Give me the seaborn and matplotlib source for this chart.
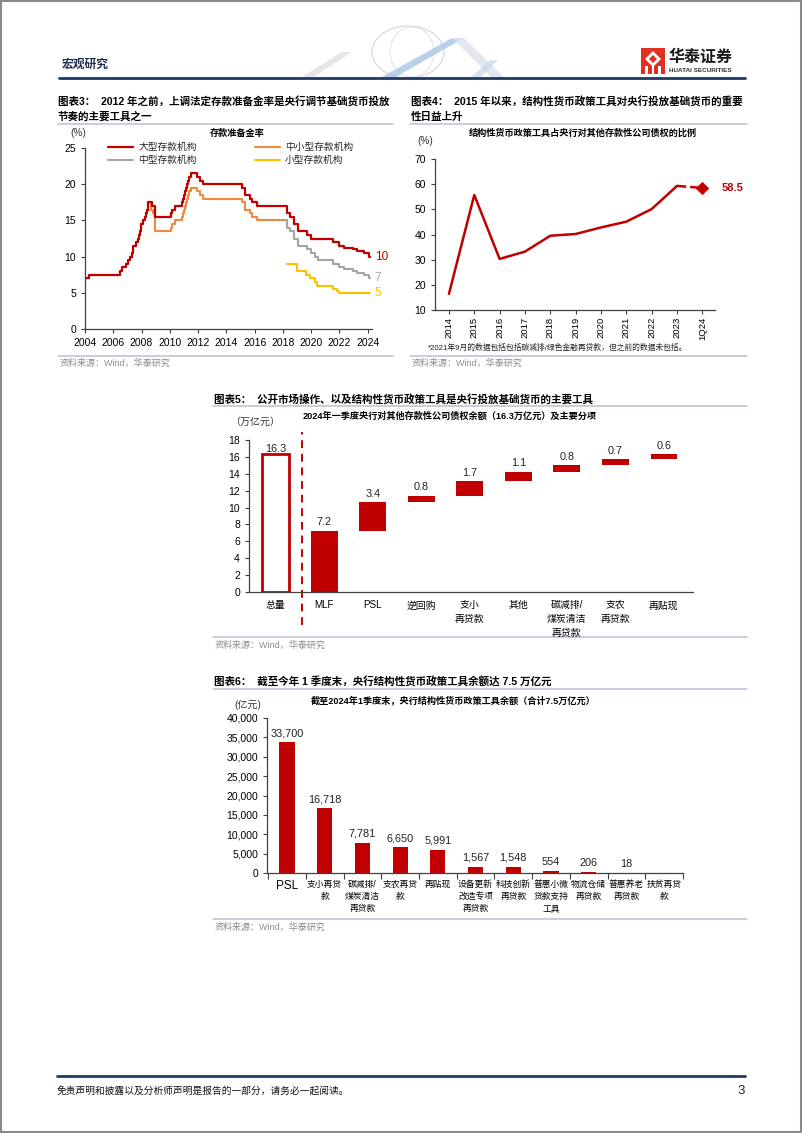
import numpy as np
import matplotlib
matplotlib.use('Agg')
import matplotlib.pyplot as plt
import seaborn as sns
from matplotlib.patches import Rectangle, Polygon, Ellipse
from matplotlib.ticker import FuncFormatter

# ---- data: reserve requirement ratio (change points, year fraction / %) ----
rrr_large_x = [2004.0, 2004.3, 2006.5, 2006.62, 2006.87, 2007.04, 2007.15, 2007.29, 2007.37, 2007.43,
               2007.62, 2007.73, 2007.81, 2007.9, 2007.98, 2008.07, 2008.23, 2008.32, 2008.38, 2008.46,
               2008.73, 2008.93, 2008.98, 2010.05, 2010.15, 2010.36, 2010.87, 2010.91, 2010.97, 2011.05,
               2011.15, 2011.23, 2011.3, 2011.38, 2011.47, 2011.93, 2012.15, 2012.38, 2015.1, 2015.3,
               2015.68, 2015.82, 2016.17, 2018.32, 2018.51, 2018.79, 2019.04, 2019.07, 2019.71, 2020.01,
               2021.54, 2021.96, 2022.32, 2022.93, 2023.24, 2023.71, 2024.1, 2024.17]
rrr_large_y = [7.0, 7.5, 8.0, 8.5, 9.0, 9.5, 10.0, 10.5, 11.0, 11.5,
               12.0, 12.5, 13.0, 13.5, 14.5, 15.0, 15.5, 16.0, 16.5, 17.5,
               17.0, 16.0, 15.5, 16.0, 16.5, 17.0, 17.5, 18.0, 18.5, 19.0,
               19.5, 20.0, 20.5, 21.0, 21.5, 21.0, 20.5, 20.0, 19.5, 18.5,
               18.0, 17.5, 17.0, 16.0, 15.5, 14.5, 14.0, 13.5, 13.0, 12.5,
               12.0, 11.5, 11.25, 11.0, 10.75, 10.5, 10.0, 10.0]

rrr_smallmid_x = [2008.46, 2008.66, 2008.79, 2008.93, 2008.98, 2010.05, 2010.15, 2010.36, 2010.87, 2010.91,
                  2010.97, 2011.05, 2011.15, 2011.23, 2011.3, 2011.38, 2011.47, 2011.93, 2012.15, 2012.38,
                  2015.1, 2015.3, 2015.68, 2015.82, 2016.17, 2018.3]
rrr_smallmid_y = [17.5, 16.5, 16.0, 14.0, 13.5, 14.0, 14.5, 15.0, 15.5, 16.0,
                  16.5, 17.0, 17.5, 18.0, 18.5, 19.0, 19.5, 19.0, 18.5, 18.0,
                  17.5, 16.5, 16.0, 15.5, 15.0, 15.0]

rrr_mid_x = [2018.25, 2018.32, 2018.51, 2018.79, 2019.04, 2019.07, 2019.71, 2020.01, 2020.3, 2020.45,
             2021.54, 2021.96, 2022.32, 2022.93, 2023.24, 2023.71, 2024.1, 2024.17]
rrr_mid_y = [15.0, 14.0, 13.5, 12.5, 12.0, 11.5, 11.0, 10.5, 10.0, 9.5,
             9.0, 8.5, 8.25, 8.0, 7.75, 7.5, 7.0, 7.0]

rrr_small_x = [2018.3, 2018.97, 2019.66, 2019.9, 2020.26, 2020.42, 2021.54, 2021.79, 2022.0, 2024.17]
rrr_small_y = [9.0, 8.0, 7.5, 7.0, 6.5, 6.0, 5.5, 5.25, 5.0, 5.0]

# ---- data: structural tools share of claims on ODCs (%) ----
share_years = ['2014', '2015', '2016', '2017', '2018', '2019', '2020', '2021', '2022', '2023', '1Q24']
share_vals = [16.4, 55.7, 30.3, 33.2, 39.5, 40.2, 42.8, 45.1, 50.1, 59.3, 58.5]

# ---- data: waterfall, 2024Q1 claims on ODCs (trn yuan) ----
wf_cats = ['总量', 'MLF', 'PSL', '逆回购', '支小\n再贷款', '其他', '碳减排/\n煤炭清洁\n再贷款', '支农\n再贷款', '再贴现']
wf_vals = [16.3, 7.2, 3.4, 0.8, 1.7, 1.1, 0.8, 0.7, 0.6]

# ---- data: structural tool balances (100m yuan) ----
tool_cats = ['PSL', '支小再贷\n款', '碳减排/\n煤炭清洁\n再贷款', '支农再贷\n款', '再贴现', '设备更新\n改造专项\n再贷款',
             '科技创新\n再贷款', '普惠小微\n贷款支持\n工具', '物流仓储\n再贷款', '普惠养老\n再贷款', '扶贫再贷\n款']
tool_vals = [33700, 16718, 7781, 6650, 5991, 1567, 1548, 554, 206, 18, 0]

RED = '#C00000'
ORANGE = '#F0883E'
GRAY = '#A5A5A5'
YELLOW = '#FFC000'
SEP = '#BFC7D5'
NAVY = '#1F3864'

sns.set_theme(style='ticks')
plt.rcParams['font.family'] = ['Liberation Sans', 'Noto Sans CJK SC']
plt.rcParams['axes.unicode_minus'] = False

W, H = 802, 1133
fig = plt.figure(figsize=(W / 100, H / 100), dpi=100)


def add_ax(x0, y0, x1, y1):
    a = fig.add_axes([x0 / W, 1 - y1 / H, (x1 - x0) / W, (y1 - y0) / H])
    a.patch.set_alpha(0)
    return a


# page layer in pixel coordinates
bg = fig.add_axes([0, 0, 1, 1])
bg.set_xlim(0, W)
bg.set_ylim(H, 0)
bg.axis('off')

bg.add_patch(Rectangle((1, 1), W - 2, H - 2, fill=False, ec='#8A8A8A', lw=1.5))

# header decoration
bg.add_patch(Polygon([(300, 78), (342, 52), (352, 52), (312, 78)], color='#DDE1E6', alpha=0.8, lw=0))
bg.add_patch(Ellipse((408, 52), 72, 52, fill=False, ec='#D0D6DE', lw=0.8))
bg.add_patch(Ellipse((412, 52), 44, 50, fill=False, ec='#D8DDE4', lw=0.6))
bg.add_patch(Polygon([(380, 78), (452, 38), (464, 38), (394, 78)], color='#A9C6E8', alpha=0.8, lw=0))
bg.add_patch(Polygon([(452, 38), (464, 38), (505, 78), (492, 78)], color='#DCE2EA', alpha=0.8, lw=0))
bg.add_patch(Polygon([(470, 78), (490, 60), (498, 60), (480, 78)], color='#C8D8EC', alpha=0.7, lw=0))

bg.text(62, 65, '宏观研究', fontsize=8.5, fontweight='bold', color='#1F2D4F', va='center')
bg.plot([59, 745], [78, 78], color=NAVY, lw=2)

# logo
bg.add_patch(Rectangle((641, 48), 24, 26, color='#E03020', lw=0))
bg.add_patch(Polygon([(653, 51), (661, 59), (653, 67), (645, 59)], color='white', lw=0))
bg.add_patch(Polygon([(653, 55), (657, 59), (653, 63), (649, 59)], color='#E03020', lw=0))
for xx in (645, 651.5, 658):
    bg.add_patch(Rectangle((xx, 66), 2.5, 8, color='white', lw=0))
bg.text(669, 57, '华泰证券', fontsize=11.5, fontweight='bold', color='#1A1A1A', va='center')
bg.text(669, 71, 'HUATAI SECURITIES', fontsize=4.6, fontweight='bold', color='#333333', va='center')

# footer
bg.plot([57, 745], [1076, 1076], color=NAVY, lw=2)
bg.text(57, 1091, '免责声明和披露以及分析师声明是报告的一部分，请务必一起阅读。', fontsize=7, va='center', color='#111111')
bg.text(745, 1091, '3', fontsize=9.5, va='center', ha='right')

# titles, separators, sources
title_kw = dict(fontsize=7.6, fontweight='bold', va='center', color='black')
bg.text(58, 101, '图表3：  2012 年之前，上调法定存款准备金率是央行调节基础货币投放', **title_kw)
bg.text(58, 117, '节奏的主要工具之一', **title_kw)
bg.text(411, 101, '图表4：  2015 年以来，结构性货币政策工具对央行投放基础货币的重要', **title_kw)
bg.text(411, 117, '性日益上升', **title_kw)
bg.text(214, 399, '图表5：  公开市场操作、以及结构性货币政策工具是央行投放基础货币的主要工具', **title_kw)
bg.text(214, 681, '图表6：  截至今年 1 季度末，央行结构性货币政策工具余额达 7.5 万亿元', **title_kw)

for y in (124, 356):
    bg.plot([58, 393], [y, y], color=SEP, lw=1.2)
    bg.plot([410, 747], [y, y], color=SEP, lw=1.2)
for y in (406, 637, 689, 919):
    bg.plot([213, 747], [y, y], color=SEP, lw=1.2)

src_kw = dict(fontsize=6.5, color='#8C8C8C', va='center')
for x, y in [(60, 363), (412, 363), (215, 645), (215, 927)]:
    bg.text(x, y, '资料来源：Wind，华泰研究', **src_kw)

sub_kw = dict(fontsize=6.6, fontweight='bold', ha='center', va='center', color='black')
bg.text(237, 133, '存款准备金率', **sub_kw)
bg.text(583, 133, '结构性货币政策工具占央行对其他存款性公司债权的比例', **sub_kw)
bg.text(450, 416, '2024年一季度央行对其他存款性公司债权余额（16.3万亿元）及主要分项', **sub_kw)
bg.text(453, 700, '截至2024年1季度末，央行结构性货币政策工具余额（合计7.5万亿元）', **sub_kw)

unit_kw = dict(fontsize=7.2, va='center', ha='center', color='#333333')
bg.text(78, 133, '(%)', **unit_kw)
bg.text(425, 141, '(%)', **unit_kw)
bg.text(255, 422, '（万亿元）', **unit_kw)
bg.text(248, 705, '(亿元)', **unit_kw)
bg.text(428, 348, '*2021年9月的数据包括包括碳减排/绿色金融再贷款，但之前的数据未包括。', fontsize=5.6, va='center', color='#222222')

tick_kw = dict(labelsize=7.5, length=3, width=0.8, colors='#404040', labelcolor='black', direction='out')

# ---- chart 3: RRR step lines ----
ax3 = add_ax(85, 148, 372, 329)
sns.lineplot(x=rrr_smallmid_x, y=rrr_smallmid_y, color=ORANGE, lw=1.5, drawstyle='steps-post', ax=ax3, label='中小型存款机构')
sns.lineplot(x=rrr_mid_x, y=rrr_mid_y, color=GRAY, lw=1.5, drawstyle='steps-post', ax=ax3, label='中型存款机构')
sns.lineplot(x=rrr_small_x, y=rrr_small_y, color=YELLOW, lw=1.5, drawstyle='steps-post', ax=ax3, label='小型存款机构')
sns.lineplot(x=rrr_large_x, y=rrr_large_y, color=RED, lw=1.6, drawstyle='steps-post', ax=ax3, label='大型存款机构')
h, l = ax3.get_legend_handles_labels()
order = [l.index(k) for k in ['大型存款机构', '中型存款机构', '中小型存款机构', '小型存款机构']]
ax3.legend([h[i] for i in order], [l[i] for i in order], ncol=2, frameon=False, fontsize=7,
           loc='upper left', bbox_to_anchor=(108 / W, 1 - 142 / H), bbox_transform=fig.transFigure,
           borderpad=0, borderaxespad=0, handlelength=2.6, handletextpad=0.5, columnspacing=6.0,
           labelspacing=0.3)
ax3.set_xlim(2004, 2024.3)
ax3.set_ylim(0, 25)
ax3.set_xticks(range(2004, 2025, 2))
ax3.set_yticks(range(0, 26, 5))
sns.despine(ax=ax3)
ax3.tick_params(**tick_kw)
for val, c in [(rrr_large_y[-1], RED), (rrr_mid_y[-1], GRAY), (rrr_small_y[-1], YELLOW)]:
    ax3.text(2024.5, val, f'{val:g}', color=c, fontsize=8.5, va='center', ha='left', clip_on=False)

# ---- chart 4: share line ----
ax4 = add_ax(435, 159, 715, 310)
pos = np.arange(len(share_years))
sns.lineplot(x=pos[:-1], y=share_vals[:-1], color=RED, lw=1.8, ax=ax4)
sns.lineplot(x=pos[-2:], y=share_vals[-2:], color=RED, lw=1.8, linestyle='--', ax=ax4)
sns.scatterplot(x=pos[-1:], y=share_vals[-1:], color=RED, marker='D', s=40, edgecolor=RED, ax=ax4, zorder=5)
ax4.text(pos[-1] + 0.75, share_vals[-1], f'{share_vals[-1]}', color=RED, fontsize=8, fontweight='bold', va='center')
ax4.set_xticks(pos)
ax4.set_xticklabels(share_years, rotation=90)
ax4.set_xlim(-0.55, 10.5)
ax4.set_ylim(10, 70)
ax4.set_yticks(range(10, 71, 10))
sns.despine(ax=ax4)
ax4.tick_params(**tick_kw)
ax4.tick_params(axis='x', labelsize=6.8, pad=2)

# ---- chart 5: waterfall ----
ax5 = add_ax(249, 440, 693, 592)
wf_tops = [wf_vals[0]] + list(np.cumsum(wf_vals[1:]))
wf_bottoms = [0] + [t - v for t, v in zip(wf_tops[1:], wf_vals[1:])]
pal = {c: RED for c in wf_cats}
pal[wf_cats[0]] = 'white'
sns.barplot(x=wf_cats, y=wf_tops, hue=wf_cats, palette=pal, legend=False, saturation=1,
            width=0.55, linewidth=0, ax=ax5)
first = min(ax5.patches, key=lambda p: p.get_x())
first.set_facecolor('white')
first.set_edgecolor(RED)
first.set_linewidth(2)
# white mask below each floating bar
sns.barplot(x=wf_cats, y=wf_bottoms, color='white', saturation=1, width=0.62, linewidth=0, ax=ax5)
for i, (t, v) in enumerate(zip(wf_tops, wf_vals)):
    ax5.text(i, t + (0.05 if i == 0 else 0.45), f'{v:.1f}', ha='center', va='bottom', fontsize=7.8, color='#222222')
ax5.axvline(0.55, ymin=-0.22, ymax=1.05, color=RED, ls=(0, (4, 3)), lw=1.4, clip_on=False)
ax5.set_xlim(-0.55, 8.6)
ax5.set_ylim(0, 18)
ax5.set_yticks(range(0, 19, 2))
sns.despine(ax=ax5)
ax5.tick_params(**tick_kw)
ax5.tick_params(axis='x', length=0, pad=6)
for lab in ax5.get_xticklabels():
    lab.set_linespacing(1.5)
    lab.set_fontsize(7.1)

# ---- chart 6: tool balances ----
ax6 = add_ax(267, 718, 683, 873)
sns.barplot(x=tool_cats, y=tool_vals, color=RED, saturation=1, width=0.4, linewidth=0, ax=ax6)
ax6.bar_label(ax6.containers[0], labels=[f'{v:,}' if v else '' for v in tool_vals], padding=3,
              fontsize=7.8, color='#222222')
ax6.set_xlim(-0.53, 10.5)
ax6.set_ylim(0, 40000)
ax6.set_yticks(range(0, 40001, 5000))
ax6.yaxis.set_major_formatter(FuncFormatter(lambda v, p: f'{v:,.0f}'))
ax6.set_xticks(np.arange(-0.5, len(tool_cats), 1), minor=True)
sns.despine(ax=ax6)
ax6.tick_params(**tick_kw)
ax6.tick_params(axis='x', which='major', length=0, pad=5)
ax6.tick_params(axis='x', which='minor', length=4, width=0.8, colors='#404040')
for lab in ax6.get_xticklabels():
    lab.set_linespacing(1.45)
    lab.set_fontsize(6.3)
ax6.get_xticklabels()[0].set_fontsize(8.5)

for a in (ax3, ax4, ax5, ax6):
    a.set_xlabel('')
    a.set_ylabel('')
    for s in a.spines.values():
        s.set_color('#404040')
        s.set_linewidth(0.9)

fig.savefig('out.png', dpi=100)
